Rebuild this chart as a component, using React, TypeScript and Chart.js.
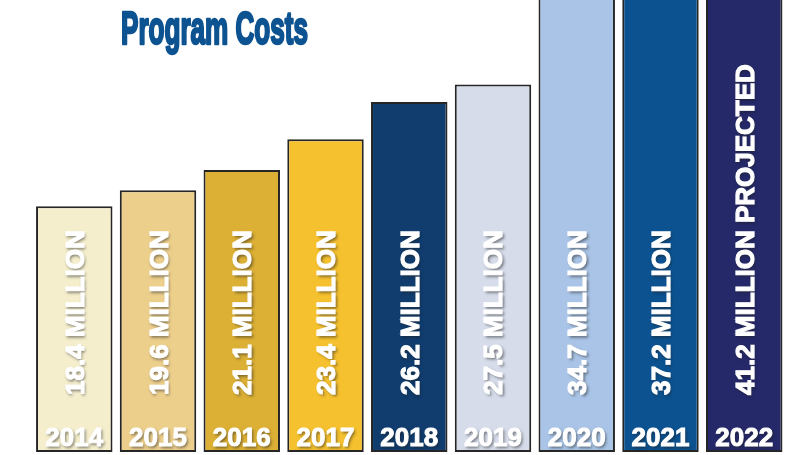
import React, { useEffect, useRef } from "react";
import { Chart, registerables } from "chart.js";

Chart.register(...registerables);

const chartTitle = "Program Costs";
const years = ["2014", "2015", "2016", "2017", "2018", "2019", "2020", "2021", "2022"];
const costs = [18.4, 19.6, 21.1, 23.4, 26.2, 27.5, 34.7, 37.2, 41.2];
const notes = ["", "", "", "", "", "", "", "", "PROJECTED"];
const unitWord = "MILLION";
const barColors = [
  "#f4eecd",
  "#edcf8c",
  "#dcb035",
  "#f5c12f",
  "#103c6e",
  "#d6dcea",
  "#a9c4e6",
  "#0c5290",
  "#25296a",
];

const FONT = "'Liberation Sans', Arial, sans-serif";

const textPlugin = {
  id: "barTexts",
  afterDatasetsDraw(chart: any) {
    const ctx = chart.ctx as CanvasRenderingContext2D;
    const meta = chart.getDatasetMeta(0);
    meta.data.forEach((bar: any, i: number) => {
      const x = bar.x;
      const base = bar.base;
      ctx.save();
      ctx.shadowColor = "rgba(30,30,30,0.55)";
      ctx.shadowOffsetX = 1.5;
      ctx.shadowOffsetY = 2;
      ctx.shadowBlur = 3;
      ctx.fillStyle = "#ffffff";
      ctx.strokeStyle = "#ffffff";
      ctx.lineWidth = 1;
      ctx.font = `bold 26px ${FONT}`;
      ctx.textAlign = "center";
      ctx.textBaseline = "alphabetic";
      ctx.fillText(years[i], x, base - 6);
      ctx.shadowColor = "transparent";
      ctx.strokeText(years[i], x, base - 6);
      ctx.restore();

      ctx.save();
      ctx.shadowColor = "rgba(30,30,30,0.55)";
      ctx.shadowOffsetX = 1.5;
      ctx.shadowOffsetY = 2;
      ctx.shadowBlur = 3;
      ctx.fillStyle = "#ffffff";
      ctx.strokeStyle = "#ffffff";
      ctx.lineWidth = 1.2;
      ctx.font = `bold 26px ${FONT}`;
      ctx.translate(x, base - 57);
      ctx.rotate(-Math.PI / 2);
      ctx.textAlign = "left";
      ctx.textBaseline = "alphabetic";
      const txt = `${costs[i].toFixed(1)} ${unitWord}${notes[i] ? " " + notes[i] : ""}`;
      ctx.fillText(txt, 0, 9.5);
      ctx.shadowColor = "transparent";
      ctx.strokeText(txt, 0, 9.5);
      ctx.restore();
    });
  },
  afterDraw(chart: any) {
    const ctx = chart.ctx as CanvasRenderingContext2D;
    ctx.save();
    ctx.font = `bold 46px ${FONT}`;
    const w = ctx.measureText(chartTitle).width;
    const targetW = 187;
    ctx.translate(121, 44);
    ctx.scale(targetW / w, 1);
    ctx.fillStyle = "#0d5391";
    ctx.strokeStyle = "#0d5391";
    ctx.lineWidth = 2.6;
    ctx.lineJoin = "round";
    ctx.textAlign = "left";
    ctx.textBaseline = "alphabetic";
    ctx.fillText(chartTitle, 0, 0);
    ctx.strokeText(chartTitle, 0, 0);
    ctx.restore();
  },
};

export default function App() {
  const ref = useRef<HTMLCanvasElement | null>(null);
  useEffect(() => {
    if (!ref.current) return;
    const chart = new Chart(ref.current, {
      type: "bar",
      data: {
        labels: years,
        datasets: [
          {
            data: costs,
            backgroundColor: barColors,
            borderColor: "#262626",
            borderWidth: 2,
            borderSkipped: false,
            barPercentage: 0.913,
            categoryPercentage: 1,
          },
        ],
      },
      options: {
        responsive: false,
        animation: false,
        layout: { padding: { left: 32.4, right: 7.9, top: 0, bottom: 3 } },
        scales: {
          x: { display: false },
          y: { display: false, min: 0, max: 33.83 },
        },
        plugins: {
          legend: { display: false },
          tooltip: { enabled: false },
          title: { display: false },
        },
      },
      plugins: [textPlugin],
    });
    return () => chart.destroy();
  }, []);
  return (
    <div style={{ position: "fixed", left: 0, top: 0, width: 794, height: 455, background: "#ffffff" }}>
      <canvas ref={ref} width={794} height={455} style={{ display: "block" }} />
    </div>
  );
}
